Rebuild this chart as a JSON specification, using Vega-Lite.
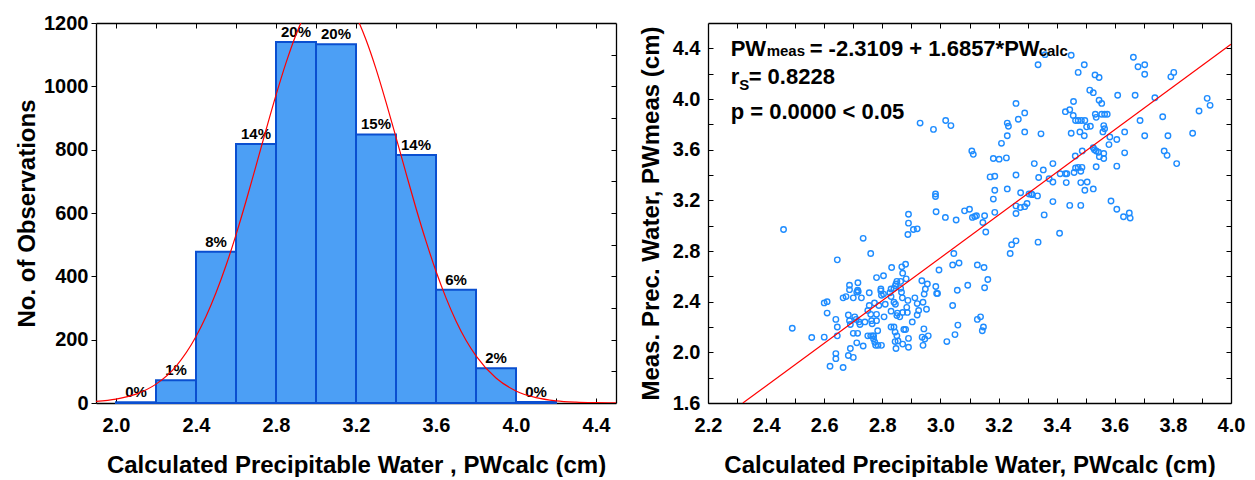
{
"$schema": "https://vega.github.io/schema/vega-lite/v6.json",
"padding": {"left": 15, "top": 13, "right": 5, "bottom": 0},
"spacing": 22,
"config": {
  "view": {"stroke": null},
  "font": "Liberation Sans",
  "axis": {"grid": false, "domainColor": "#000", "domainWidth": 1.3, "tickColor": "#000", "tickWidth": 1, "labelColor": "#000", "titleColor": "#000",
    "labelFont": "Liberation Sans", "labelFontWeight": "bold", "labelFontSize": 20, "titleFont": "Liberation Sans", "titleFontWeight": "bold", "titleFontSize": 24,
    "labelFlush": false, "labelOverlap": false, "labelBound": false}
},
"datasets": {
  "bins": [
    {"lo": 2.0, "hi": 2.2, "mid": 2.1, "n": 2, "pct": "0%"},
    {"lo": 2.2, "hi": 2.4, "mid": 2.3, "n": 72, "pct": "1%"},
    {"lo": 2.4, "hi": 2.6, "mid": 2.5, "n": 478, "pct": "8%"},
    {"lo": 2.6, "hi": 2.8, "mid": 2.7, "n": 818, "pct": "14%"},
    {"lo": 2.8, "hi": 3.0, "mid": 2.9, "n": 1140, "pct": "20%"},
    {"lo": 3.0, "hi": 3.2, "mid": 3.1, "n": 1133, "pct": "20%"},
    {"lo": 3.2, "hi": 3.4, "mid": 3.3, "n": 848, "pct": "15%"},
    {"lo": 3.4, "hi": 3.6, "mid": 3.5, "n": 783, "pct": "14%"},
    {"lo": 3.6, "hi": 3.8, "mid": 3.7, "n": 358, "pct": "6%"},
    {"lo": 3.8, "hi": 4.0, "mid": 3.9, "n": 110, "pct": "2%"},
    {"lo": 4.0, "hi": 4.2, "mid": 4.1, "n": 3, "pct": "0%"}
  ],
  "curve": [
    {"x": 1.9, "y": 4.9}, {"x": 2.0, "y": 12.2}, {"x": 2.1, "y": 28.1}, {"x": 2.2, "y": 59.6}, {"x": 2.3, "y": 116}, {"x": 2.4, "y": 210}, {"x": 2.45, "y": 273}, {"x": 2.5, "y": 348}, {"x": 2.55, "y": 434}, {"x": 2.6, "y": 531}, {"x": 2.65, "y": 637}, {"x": 2.7, "y": 749}, {"x": 2.75, "y": 862}, {"x": 2.8, "y": 972}, {"x": 2.85, "y": 1074}, {"x": 2.9, "y": 1163}, {"x": 2.95, "y": 1234}, {"x": 3.0, "y": 1283}, {"x": 3.05, "y": 1307}, {"x": 3.1, "y": 1304}, {"x": 3.15, "y": 1275}, {"x": 3.2, "y": 1222}, {"x": 3.25, "y": 1147}, {"x": 3.3, "y": 1055}, {"x": 3.35, "y": 950}, {"x": 3.4, "y": 839}, {"x": 3.45, "y": 726}, {"x": 3.5, "y": 615}, {"x": 3.55, "y": 511}, {"x": 3.6, "y": 416}, {"x": 3.65, "y": 332}, {"x": 3.7, "y": 259}, {"x": 3.75, "y": 198}, {"x": 3.8, "y": 149}, {"x": 3.9, "y": 79}, {"x": 4.0, "y": 38}, {"x": 4.1, "y": 17}, {"x": 4.2, "y": 7}, {"x": 4.3, "y": 2.7}, {"x": 4.4, "y": 1}, {"x": 4.5, "y": 0.3}
  ],
  "pts": [
    {"c":2.46,"m":2.97},{"c":2.49,"m":2.19},{"c":2.557,"m":2.117},{"c":2.6,"m":2.12},{"c":2.6,"m":2.39},{"c":2.61,"m":2.4},{"c":2.61,"m":2.31},{"c":2.62,"m":1.89},{"c":2.64,"m":1.99},{"c":2.64,"m":1.95},{"c":2.64,"m":2.26},{"c":2.645,"m":2.2},{"c":2.645,"m":2.13},{"c":2.645,"m":2.73},{"c":2.665,"m":1.88},{"c":2.665,"m":2.43},{"c":2.675,"m":2.44},{"c":2.683,"m":1.975},{"c":2.687,"m":2.53},{"c":2.687,"m":2.495},{"c":2.683,"m":2.295},{"c":2.687,"m":2.25},{"c":2.69,"m":2.22},{"c":2.69,"m":2.03},{"c":2.7,"m":2.43},{"c":2.7,"m":1.96},{"c":2.7,"m":2.15},{"c":2.705,"m":2.28},{"c":2.71,"m":2.26},{"c":2.712,"m":2.475},{"c":2.715,"m":2.49},{"c":2.716,"m":2.55},{"c":2.717,"m":2.48},{"c":2.715,"m":2.15},{"c":2.712,"m":2.075},{"c":2.72,"m":2.24},{"c":2.723,"m":2.22},{"c":2.728,"m":2.43},{"c":2.734,"m":2.9},{"c":2.734,"m":2.05},{"c":2.74,"m":2.24},{"c":2.75,"m":2.13},{"c":2.755,"m":2.47},{"c":2.755,"m":2.37},{"c":2.75,"m":2.33},{"c":2.76,"m":2.78},{"c":2.76,"m":2.3},{"c":2.763,"m":2.25},{"c":2.765,"m":2.225},{"c":2.76,"m":2.13},{"c":2.767,"m":2.13},{"c":2.77,"m":2.13},{"c":2.773,"m":2.39},{"c":2.77,"m":2.105},{"c":2.774,"m":2.08},{"c":2.777,"m":2.055},{"c":2.78,"m":2.59},{"c":2.78,"m":2.3},{"c":2.78,"m":2.25},{"c":2.784,"m":2.17},{"c":2.785,"m":2.055},{"c":2.788,"m":2.37},{"c":2.795,"m":2.5},{"c":2.795,"m":2.485},{"c":2.797,"m":2.45},{"c":2.797,"m":2.055},{"c":2.804,"m":2.605},{"c":2.804,"m":2.46},{"c":2.806,"m":2.28},{"c":2.81,"m":2.38},{"c":2.83,"m":2.5},{"c":2.826,"m":2.47},{"c":2.83,"m":2.44},{"c":2.832,"m":2.67},{"c":2.83,"m":2.2},{"c":2.83,"m":2.325},{"c":2.84,"m":2.395},{"c":2.845,"m":2.38},{"c":2.84,"m":2.505},{"c":2.845,"m":2.525},{"c":2.847,"m":2.54},{"c":2.85,"m":2.56},{"c":2.84,"m":2.2},{"c":2.844,"m":2.16},{"c":2.844,"m":2.085},{"c":2.847,"m":2.03},{"c":2.85,"m":2.13},{"c":2.854,"m":2.09},{"c":2.852,"m":2.31},{"c":2.85,"m":2.29},{"c":2.86,"m":2.28},{"c":2.863,"m":2.56},{"c":2.863,"m":2.505},{"c":2.866,"m":2.475},{"c":2.867,"m":2.675},{"c":2.87,"m":2.625},{"c":2.869,"m":2.43},{"c":2.87,"m":2.315},{"c":2.87,"m":2.065},{"c":2.874,"m":2.18},{"c":2.88,"m":2.18},{"c":2.88,"m":2.695},{"c":2.882,"m":2.58},{"c":2.884,"m":2.355},{"c":2.886,"m":2.315},{"c":2.89,"m":3.09},{"c":2.89,"m":3.02},{"c":2.888,"m":2.93},{"c":2.888,"m":2.41},{"c":2.89,"m":2.11},{"c":2.89,"m":2.04},{"c":2.903,"m":2.24},{"c":2.907,"m":2.97},{"c":2.912,"m":2.43},{"c":2.92,"m":2.975},{"c":2.92,"m":2.385},{"c":2.925,"m":2.33},{"c":2.92,"m":2.295},{"c":2.936,"m":2.565},{"c":2.94,"m":2.395},{"c":2.937,"m":2.12},{"c":2.946,"m":2.105},{"c":2.94,"m":2.055},{"c":2.943,"m":2.185},{"c":2.944,"m":2.46},{"c":2.948,"m":2.5},{"c":2.952,"m":2.34},{"c":2.955,"m":2.54},{"c":2.958,"m":2.13},{"c":2.93,"m":3.81},{"c":2.976,"m":3.76},{"c":2.983,"m":3.25},{"c":2.983,"m":3.23},{"c":2.985,"m":3.11},{"c":2.984,"m":2.52},{"c":2.987,"m":2.465},{"c":2.99,"m":2.465},{"c":2.995,"m":2.65},{"c":3.018,"m":3.83},{"c":3.036,"m":3.79},{"c":3.017,"m":3.065},{"c":3.022,"m":2.085},{"c":3.042,"m":2.37},{"c":3.046,"m":2.78},{"c":3.042,"m":2.69},{"c":3.05,"m":2.14},{"c":3.054,"m":3.045},{"c":3.058,"m":2.49},{"c":3.06,"m":2.215},{"c":3.064,"m":2.705},{"c":3.083,"m":3.117},{"c":3.094,"m":2.53},{"c":3.1,"m":3.13},{"c":3.108,"m":3.59},{"c":3.113,"m":3.563},{"c":3.11,"m":3.065},{"c":3.118,"m":3.072},{"c":3.124,"m":3.078},{"c":3.127,"m":2.69},{"c":3.127,"m":2.26},{"c":3.138,"m":2.28},{"c":3.144,"m":2.17},{"c":3.148,"m":2.2},{"c":3.146,"m":3.025},{"c":3.152,"m":3.078},{"c":3.15,"m":2.67},{"c":3.152,"m":2.51},{"c":3.156,"m":2.95},{"c":3.163,"m":2.575},{"c":3.171,"m":3.385},{"c":3.182,"m":3.53},{"c":3.182,"m":3.21},{"c":3.187,"m":3.39},{"c":3.187,"m":3.105},{"c":3.187,"m":3.28},{"c":3.202,"m":3.525},{"c":3.21,"m":3.65},{"c":3.227,"m":3.535},{"c":3.23,"m":3.81},{"c":3.234,"m":3.785},{"c":3.23,"m":3.71},{"c":3.23,"m":3.29},{"c":3.24,"m":2.78},{"c":3.245,"m":2.85},{"c":3.26,"m":3.965},{"c":3.26,"m":3.4},{"c":3.26,"m":3.156},{"c":3.26,"m":3.096},{"c":3.26,"m":2.88},{"c":3.268,"m":3.84},{"c":3.276,"m":3.26},{"c":3.275,"m":3.143},{"c":3.29,"m":3.89},{"c":3.29,"m":3.74},{"c":3.29,"m":3.15},{"c":3.298,"m":3.175},{"c":3.305,"m":3.25},{"c":3.313,"m":3.25},{"c":3.316,"m":3.245},{"c":3.323,"m":3.49},{"c":3.336,"m":4.27},{"c":3.338,"m":3.38},{"c":3.334,"m":3.235},{"c":3.336,"m":2.87},{"c":3.346,"m":3.725},{"c":3.354,"m":3.44},{"c":3.357,"m":3.085},{"c":3.36,"m":4.35},{"c":3.374,"m":3.37},{"c":3.387,"m":3.345},{"c":3.387,"m":3.49},{"c":3.387,"m":3.19},{"c":3.41,"m":2.94},{"c":3.412,"m":3.41},{"c":3.43,"m":3.41},{"c":3.435,"m":3.41},{"c":3.43,"m":3.9},{"c":3.433,"m":3.34},{"c":3.445,"m":3.915},{"c":3.45,"m":3.73},{"c":3.445,"m":3.16},{"c":3.45,"m":4.345},{"c":3.457,"m":3.87},{"c":3.458,"m":3.98},{"c":3.465,"m":3.83},{"c":3.464,"m":3.55},{"c":3.46,"m":3.42},{"c":3.465,"m":3.455},{"c":3.474,"m":3.46},{"c":3.474,"m":4.21},{"c":3.474,"m":3.83},{"c":3.485,"m":3.83},{"c":3.497,"m":3.83},{"c":3.48,"m":3.74},{"c":3.483,"m":3.43},{"c":3.487,"m":3.46},{"c":3.488,"m":3.59},{"c":3.483,"m":3.34},{"c":3.483,"m":3.16},{"c":3.495,"m":3.71},{"c":3.495,"m":4.27},{"c":3.497,"m":3.28},{"c":3.503,"m":3.78},{"c":3.505,"m":3.345},{"c":3.514,"m":4.07},{"c":3.516,"m":3.785},{"c":3.526,"m":4.05},{"c":3.526,"m":3.615},{"c":3.53,"m":3.6},{"c":3.536,"m":3.59},{"c":3.544,"m":3.58},{"c":3.526,"m":3.29},{"c":3.532,"m":4.19},{"c":3.546,"m":4.17},{"c":3.533,"m":3.88},{"c":3.536,"m":3.855},{"c":3.536,"m":3.465},{"c":3.546,"m":3.99},{"c":3.547,"m":3.545},{"c":3.555,"m":3.965},{"c":3.555,"m":3.88},{"c":3.565,"m":3.88},{"c":3.574,"m":3.88},{"c":3.559,"m":3.74},{"c":3.562,"m":3.79},{"c":3.565,"m":3.765},{"c":3.562,"m":3.57},{"c":3.562,"m":3.53},{"c":3.58,"m":3.64},{"c":3.583,"m":3.7},{"c":3.587,"m":3.195},{"c":3.607,"m":3.68},{"c":3.607,"m":3.47},{"c":3.607,"m":3.13},{"c":3.61,"m":4.03},{"c":3.63,"m":3.07},{"c":3.634,"m":3.74},{"c":3.634,"m":3.575},{"c":3.65,"m":3.1},{"c":3.653,"m":3.06},{"c":3.664,"m":4.33},{"c":3.67,"m":4.03},{"c":3.68,"m":4.255},{"c":3.687,"m":3.83},{"c":3.703,"m":4.27},{"c":3.703,"m":4.195},{"c":3.703,"m":3.71},{"c":3.738,"m":4.01},{"c":3.765,"m":3.86},{"c":3.77,"m":3.59},{"c":3.78,"m":3.555},{"c":3.783,"m":3.71},{"c":3.793,"m":4.175},{"c":3.803,"m":4.21},{"c":3.813,"m":3.49},{"c":3.868,"m":3.73},{"c":3.89,"m":3.905},{"c":3.918,"m":4.005},{"c":3.928,"m":3.95}
  ],
  "fit": [{"c": 2.32, "m": 1.6}, {"c": 4.0, "m": 4.4319}]
},
"hconcat": [
  {
    "width": 520, "height": 380,
    "layer": [
      {
        "data": {"name": "bins"},
        "mark": {"type": "rect", "fill": "#4c9ff5", "stroke": "#0a4fd0", "strokeWidth": 2},
        "encoding": {
          "x": {"field": "lo", "type": "quantitative", "scale": {"domain": [1.9, 4.5], "nice": false, "zero": false},
                "axis": {"orient": "bottom", "title": "Calculated Precipitable Water , PWcalc (cm)", "values": [2.0, 2.2, 2.4, 2.6, 2.8, 3.0, 3.2, 3.4, 3.6, 3.8, 4.0, 4.2, 4.4],
                         "labelExpr": "round(datum.value*10) % 4 == 0 ? format(datum.value, '.1f') : ''", "tickSize": -5, "labelPadding": 17, "titlePadding": 18}},
          "x2": {"field": "hi"},
          "y": {"field": "n", "type": "quantitative", "scale": {"domain": [0, 1200], "nice": false},
                "axis": {"orient": "left", "title": "No. of Observations", "values": [0, 200, 400, 600, 800, 1000, 1200], "format": "d", "tickSize": 5, "labelPadding": 3, "titlePadding": 4}},
          "y2": {"datum": 0}
        }
      },
      {
        "data": {"name": "bins"},
        "mark": {"type": "text", "font": "Liberation Sans", "fontWeight": "bold", "fontSize": 15, "baseline": "alphabetic", "dy": -5, "color": "#000"},
        "encoding": {
          "x": {"field": "mid", "type": "quantitative", "scale": {"domain": [1.9, 4.5], "nice": false, "zero": false}, "axis": null},
          "y": {"field": "n", "type": "quantitative", "scale": {"domain": [0, 1200], "nice": false}, "axis": null},
          "text": {"field": "pct"}
        }
      },
      {
        "data": {"name": "curve"},
        "mark": {"type": "line", "color": "#ff0000", "strokeWidth": 1.2, "clip": true, "interpolate": "monotone"},
        "encoding": {
          "x": {"field": "x", "type": "quantitative", "scale": {"domain": [1.9, 4.5], "nice": false, "zero": false},
                "axis": {"orient": "top", "title": null, "labels": false, "values": [2.0, 2.2, 2.4, 2.6, 2.8, 3.0, 3.2, 3.4, 3.6, 3.8, 4.0, 4.2, 4.4], "tickSize": -5}},
          "y": {"field": "y", "type": "quantitative", "scale": {"domain": [0, 1200], "nice": false},
                "axis": {"orient": "right", "title": null, "labels": false, "values": [100, 200, 300, 400, 500, 600, 700, 800, 900, 1000, 1100], "tickSize": -5}}
        }
      }
    ],
    "resolve": {"axis": {"x": "independent", "y": "independent"}}
  },
  {
    "width": 523, "height": 380,
    "layer": [
      {
        "data": {"name": "pts"},
        "mark": {"type": "point", "shape": "circle", "filled": false, "color": "#1e8cff", "opacity": 1, "size": 30, "strokeWidth": 1.4},
        "encoding": {
          "x": {"field": "c", "type": "quantitative", "scale": {"domain": [2.2, 4.0], "nice": false, "zero": false},
                "axis": {"orient": "bottom", "title": "Calculated Precipitable Water, PWcalc (cm)", "values": [2.2, 2.3, 2.4, 2.5, 2.6, 2.7, 2.8, 2.9, 3.0, 3.1, 3.2, 3.3, 3.4, 3.5, 3.6, 3.7, 3.8, 3.9, 4.0],
                         "labelExpr": "round(datum.value*10) % 2 == 0 ? format(datum.value, '.1f') : ''", "tickSize": -5, "labelPadding": 17, "titlePadding": 18}},
          "y": {"field": "m", "type": "quantitative", "scale": {"domain": [1.6, 4.6], "nice": false, "zero": false},
                "axis": {"orient": "left", "title": "Meas. Prec. Water, PWmeas (cm)", "values": [1.6, 1.8, 2.0, 2.2, 2.4, 2.6, 2.8, 3.0, 3.2, 3.4, 3.6, 3.8, 4.0, 4.2, 4.4],
                         "labelExpr": "round(datum.value*10) % 4 == 0 ? format(datum.value, '.1f') : ''", "tickSize": -5, "labelPadding": 13, "titlePadding": 9}}
        }
      },
      {
        "data": {"name": "fit"},
        "mark": {"type": "line", "color": "#ff0000", "strokeWidth": 1.2, "clip": true},
        "encoding": {
          "x": {"field": "c", "type": "quantitative", "scale": {"domain": [2.2, 4.0], "nice": false, "zero": false},
                "axis": {"orient": "top", "title": null, "labels": false, "values": [2.3, 2.4, 2.5, 2.6, 2.7, 2.8, 2.9, 3.0, 3.1, 3.2, 3.3, 3.4, 3.5, 3.6, 3.7, 3.8, 3.9], "tickSize": -5}},
          "y": {"field": "m", "type": "quantitative", "scale": {"domain": [1.6, 4.6], "nice": false, "zero": false},
                "axis": {"orient": "right", "title": null, "labels": false, "values": [1.8, 2.0, 2.2, 2.4, 2.6, 2.8, 3.0, 3.2, 3.4, 3.6, 3.8, 4.0, 4.2, 4.4], "tickSize": -5}}
        }
      },
      {
        "data": {"values": [{"c": 2.278, "m": 4.339, "t": "PW"}, {"c": 2.278, "m": 4.118, "t": "r"}, {"c": 2.278, "m": 3.842, "t": "p = 0.0000 < 0.05"}]},
        "mark": {"type": "text", "align": "left", "baseline": "alphabetic", "fontSize": 22, "fontWeight": "bold", "font": "Liberation Sans", "color": "#000"},
        "encoding": {
          "x": {"field": "c", "type": "quantitative", "scale": {"domain": [2.2, 4.0], "nice": false, "zero": false}, "axis": null},
          "y": {"field": "m", "type": "quantitative", "scale": {"domain": [1.6, 4.6], "nice": false, "zero": false}, "axis": null},
          "text": {"field": "t"}
        }
      },
      {
        "data": {"values": [{"c": 2.278, "m": 4.339, "t": "meas"}]},
        "mark": {"type": "text", "align": "left", "baseline": "alphabetic", "fontSize": 15, "fontWeight": "bold", "font": "Liberation Sans", "color": "#000", "dx": 36},
        "encoding": {
          "x": {"field": "c", "type": "quantitative", "scale": {"domain": [2.2, 4.0], "nice": false, "zero": false}, "axis": null},
          "y": {"field": "m", "type": "quantitative", "scale": {"domain": [1.6, 4.6], "nice": false, "zero": false}, "axis": null},
          "text": {"field": "t"}
        }
      },
      {
        "data": {"values": [{"c": 2.278, "m": 4.339, "t": "= -2.3109 + 1.6857*PW"}]},
        "mark": {"type": "text", "align": "left", "baseline": "alphabetic", "fontSize": 22, "fontWeight": "bold", "font": "Liberation Sans", "color": "#000", "dx": 79},
        "encoding": {
          "x": {"field": "c", "type": "quantitative", "scale": {"domain": [2.2, 4.0], "nice": false, "zero": false}, "axis": null},
          "y": {"field": "m", "type": "quantitative", "scale": {"domain": [1.6, 4.6], "nice": false, "zero": false}, "axis": null},
          "text": {"field": "t"}
        }
      },
      {
        "data": {"values": [{"c": 2.278, "m": 4.339, "t": "calc"}]},
        "mark": {"type": "text", "align": "left", "baseline": "alphabetic", "fontSize": 15, "fontWeight": "bold", "font": "Liberation Sans", "color": "#000", "dx": 308},
        "encoding": {
          "x": {"field": "c", "type": "quantitative", "scale": {"domain": [2.2, 4.0], "nice": false, "zero": false}, "axis": null},
          "y": {"field": "m", "type": "quantitative", "scale": {"domain": [1.6, 4.6], "nice": false, "zero": false}, "axis": null},
          "text": {"field": "t"}
        }
      },
      {
        "data": {"values": [{"c": 2.278, "m": 4.118, "t": "S"}]},
        "mark": {"type": "text", "align": "left", "baseline": "alphabetic", "fontSize": 15, "fontWeight": "bold", "font": "Liberation Sans", "color": "#000", "dx": 8.5, "dy": 6},
        "encoding": {
          "x": {"field": "c", "type": "quantitative", "scale": {"domain": [2.2, 4.0], "nice": false, "zero": false}, "axis": null},
          "y": {"field": "m", "type": "quantitative", "scale": {"domain": [1.6, 4.6], "nice": false, "zero": false}, "axis": null},
          "text": {"field": "t"}
        }
      },
      {
        "data": {"values": [{"c": 2.278, "m": 4.118, "t": "= 0.8228"}]},
        "mark": {"type": "text", "align": "left", "baseline": "alphabetic", "fontSize": 22, "fontWeight": "bold", "font": "Liberation Sans", "color": "#000", "dx": 18},
        "encoding": {
          "x": {"field": "c", "type": "quantitative", "scale": {"domain": [2.2, 4.0], "nice": false, "zero": false}, "axis": null},
          "y": {"field": "m", "type": "quantitative", "scale": {"domain": [1.6, 4.6], "nice": false, "zero": false}, "axis": null},
          "text": {"field": "t"}
        }
      }
    ],
    "resolve": {"axis": {"x": "independent", "y": "independent"}}
  }
]
}
